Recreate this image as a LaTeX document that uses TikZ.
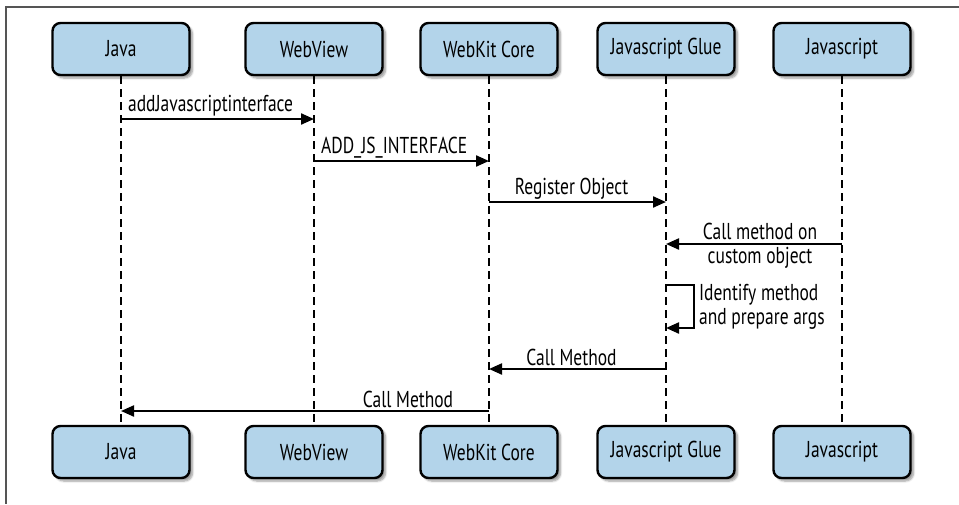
\documentclass[tikz,border=0pt]{standalone}
\usepackage{fontspec}
\setmainfont[FakeStretch=0.76]{PT Sans}
\usetikzlibrary{positioning,arrows.meta,shadows.blur}
\definecolor{boxblue}{RGB}{179,212,234}
\definecolor{framegray}{RGB}{85,85,85}

\begin{document}
\begin{tikzpicture}[x=1pt, y=-1pt,
    actor/.style={rectangle, rounded corners=8pt, draw=black, line width=2.4pt, fill=boxblue, minimum width=137pt, minimum height=52pt, font=\fontsize{23}{25}\selectfont, blur shadow={shadow xshift=3pt, shadow yshift=-3pt, shadow blur steps=6}},
    lifeline/.style={line width=2.2pt, dash pattern=on 8pt off 5pt},
    msg/.style={-{Triangle[length=13pt, width=11pt]}, line width=2.2pt},
    lbl/.style={font=\fontsize{23}{24}\selectfont, inner sep=2pt, align=center}
]
    \useasboundingbox (0,0) rectangle (959,504);
    % Frame
    \draw[framegray, line width=1.5pt] (959,7) -- (6,7) -- (6,504);

    % Actors, top
    \node[actor] (javaT) at (121,49) {Java};
    \node[actor] (webT) at (314,49) {WebView};
    \node[actor] (coreT) at (489,49) {WebKit Core};
    \node[actor] (glueT) at (666,49) {Javascript Glue};
    \node[actor] (jsT) at (842,49) {Javascript};
    % Actors, bottom
    \node[actor] (javaB) at (121,452) {Java};
    \node[actor] (webB) at (314,452) {WebView};
    \node[actor] (coreB) at (489,452) {WebKit Core};
    \node[actor] (glueB) at (666,452) {Javascript Glue};
    \node[actor] (jsB) at (842,452) {Javascript};

    % Lifelines
    \draw[lifeline] (javaT.south) -- (javaB.north);
    \draw[lifeline] (webT.south) -- (webB.north);
    \draw[lifeline] (coreT.south) -- (coreB.north);
    \draw[lifeline] (glueT.south) -- (glueB.north);
    \draw[lifeline] (jsT.south) -- (jsB.north);

    % Message end points
    \coordinate (m1a) at (javaT.south |- 0,119);
    \coordinate (m1b) at (webT.south |- 0,119);
    \coordinate (m2a) at (webT.south |- 0,161);
    \coordinate (m2b) at (coreT.south |- 0,161);
    \coordinate (m3a) at (coreT.south |- 0,202);
    \coordinate (m3b) at (glueT.south |- 0,202);
    \coordinate (m4a) at (jsT.south |- 0,244);
    \coordinate (m4b) at (glueT.south |- 0,244);
    \coordinate (m5a) at (glueT.south |- 0,285);
    \coordinate (m5b) at (glueT.south |- 0,328);
    \coordinate (m6a) at (glueT.south |- 0,369);
    \coordinate (m6b) at (coreT.south |- 0,369);
    \coordinate (m7a) at (coreT.south |- 0,411);
    \coordinate (m7b) at (javaT.south |- 0,411);

    % Messages
    \draw[msg] (m1a) -- node[lbl, at start, anchor=south west, xshift=4pt] {addJavascriptinterface} (m1b);
    \draw[msg] (m2a) -- node[lbl, at start, anchor=south west, xshift=4pt] {ADD\_JS\_INTERFACE} (m2b);
    \draw[msg] (m3a) -- node[lbl, above, xshift=-6pt] {Register Object} (m3b);
    \draw[msg] (m4a) -- node[lbl, yshift=-2pt, xshift=6pt] {Call method on\\custom object} (m4b);
    \draw[msg] (m5a) -- ++(28,0) -- node[lbl, right, align=left, xshift=2pt] {Identify method\\and prepare args} ++(0,43) -- (m5b);
    \draw[msg] (m6a) -- node[lbl, above, xshift=-6pt] {Call Method} (m6b);
    \draw[msg] (m7a) -- node[lbl, above, pos=0.22] {Call Method} (m7b);
\end{tikzpicture}
\end{document}
